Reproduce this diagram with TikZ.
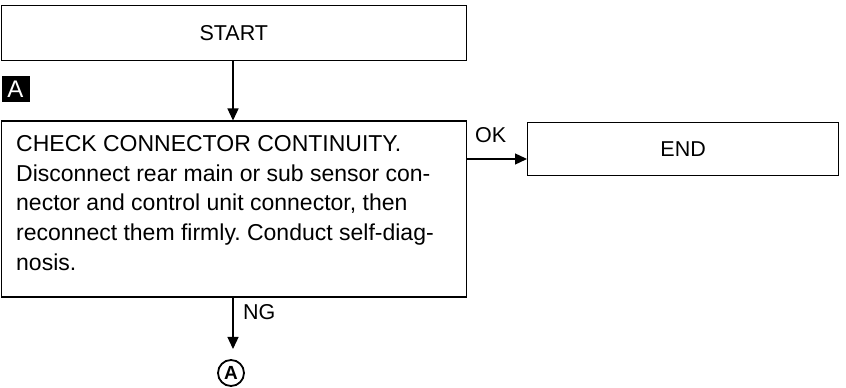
\documentclass[tikz,border=0pt]{standalone}
\usepackage{fontspec}
\setmainfont{Liberation Sans}
\usetikzlibrary{arrows.meta}
\frenchspacing
\begin{document}
\begin{tikzpicture}[x=1pt,y=1pt,
  box/.style={draw,line width=1.3pt,rectangle,inner sep=0pt,font=\fontsize{21.5}{29.5}\selectfont},
  conn/.style={line width=1.3pt,-{Triangle[length=12pt,width=11pt]}},
  lbl/.style={font=\fontsize{21.5}{25}\selectfont,inner sep=0pt}]
\useasboundingbox (0,0) rectangle (846,388);
\node[box,minimum width=465pt,minimum height=55pt,anchor=north west] (start) at (0.7,383) {START};
\node[box,minimum width=465pt,minimum height=176pt,anchor=north west] (check) at (0.7,267.5) {};
\node[lbl,anchor=north west,align=left,font=\fontsize{23}{29.6}\selectfont] (checktext) at (16,252.6)
 {CHECK CONNECTOR CONTINUITY.\\Disconnect rear main or sub sensor con-\\nector and control unit connector, then\\reconnect them firmly. Conduct self-diag-\\nosis.};
\node[box,minimum width=311pt,minimum height=53pt,anchor=north west] (end) at (527,266) {END};
\node[fill=black,text=white,inner sep=0pt,minimum width=28pt,minimum height=26pt,font=\fontsize{24}{26}\selectfont] (alabel) at (15.5,299) {A};
\coordinate (ngend) at (233,39);
\node[draw,circle,line width=1.8pt,inner sep=0pt,minimum size=26pt,font=\bfseries\fontsize{19}{20}\selectfont] (conA) at (231,15) {A};
\draw[conn] (start.south -| 233,0) -- (check.north -| 233,0);
\draw[conn] (check.east |- 0,229) -- (end.west |- 0,229);
\draw[conn] (check.south -| 233,0) -- (ngend);
\node[lbl,anchor=base west] (ok) at (475,245) {OK};
\node[lbl,anchor=base west] (ng) at (243,68) {NG};
\end{tikzpicture}
\end{document}
